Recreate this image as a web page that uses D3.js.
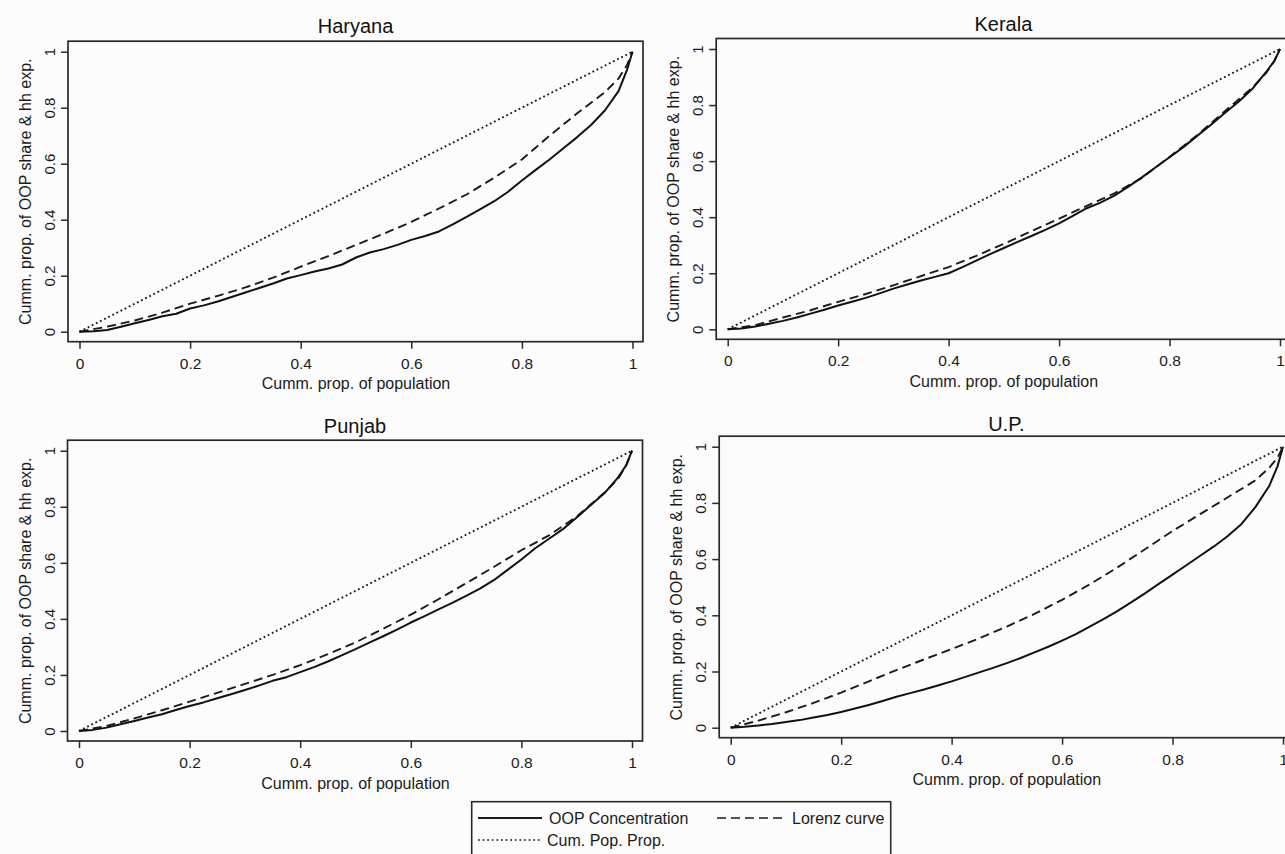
<!DOCTYPE html>
<html>
<head>
<meta charset="utf-8">
<script src="https://cdn.jsdelivr.net/npm/d3@7/dist/d3.min.js"></script>
<style>
    body { margin: 0; background: #fcfcfc; }
    svg { display: block; font-family: "Liberation Sans", Arial, sans-serif; }
</style>
</head>
<body>
<svg id="chart" width="1285" height="854"></svg>
<script>
//Data
var states = ["Haryana", "Kerala", "Punjab", "U.P."];

var concGrid = [0, .025, .05, .075, .1, .125, .15, .175, .2, .225, .25, .275, .3, .325, .35, .375, .4, .425, .45, .475,
    .5, .525, .55, .575, .6, .625, .65, .675, .7, .725, .75, .775, .8, .825, .85, .875, .9, .925, .95, .975, .99, 1];
var lorenzGrid = [0, .05, .1, .15, .2, .25, .3, .35, .4, .45, .5, .55, .6, .65, .7, .75, .8, .85, .9, .95, .975, .99, 1];
var diagonal = [0, 1];

var haryanaConc = [0, .002, .006, .018, .03, .042, .055, .064, .083, .094, .108, .124, .14, .156, .172, .19, .202, .215, .226, .24,
    .265, .283, .295, .31, .328, .342, .358, .383, .41, .438, .466, .5, .54, .578, .615, .655, .695, .738, .79, .86, .935, 1];
var haryanaLorenz = [0, .018, .04, .068, .10, .128, .158, .193, .232, .27, .31, .35, .392, .44, .49, .55, .615, .70, .78, .855, .905, .952, 1];

var keralaConc = [0, .003, .01, .02, .03, .042, .056, .07, .085, .098, .112, .128, .145, .16, .174, .187, .20, .222, .245, .268,
    .29, .312, .333, .355, .378, .405, .432, .452, .477, .508, .542, .578, .614, .65, .69, .73, .772, .812, .858, .918, .958, 1];
var keralaLorenz = [0, .015, .042, .068, .098, .126, .157, .19, .222, .262, .305, .35, .395, .44, .485, .54, .615, .692, .778, .862, .915, .958, 1];

var punjabConc = [0, .004, .012, .024, .036, .048, .06, .075, .089, .102, .117, .131, .146, .162, .179, .192, .21, .228, .248, .27,
    .292, .315, .338, .362, .387, .41, .434, .457, .482, .508, .538, .575, .612, .652, .686, .72, .762, .805, .848, .905, .95, 1];
var punjabLorenz = [0, .018, .045, .074, .105, .136, .168, .2, .235, .274, .316, .365, .415, .47, .527, .585, .645, .698, .765, .85, .9, .95, 1];

var upConc = [0, .003, .008, .013, .02, .027, .036, .045, .056, .068, .081, .095, .11, .123, .136, .15, .165, .181, .197, .213,
    .23, .248, .268, .288, .31, .333, .36, .386, .415, .446, .478, .512, .545, .578, .612, .645, .682, .725, .785, .86, .93, 1];
var upLorenz = [0, .025, .055, .088, .125, .165, .205, .243, .28, .318, .36, .405, .455, .51, .57, .635, .70, .76, .82, .88, .925, .96, 1];

var xTicks = [0, 0.2, 0.4, 0.6, 0.8, 1];
var yTicks = [0, 0.2, 0.4, 0.6, 0.8, 1];
var xTitle = "Cumm. prop. of population";
var yTitle = "Cumm. prop. of OOP share & hh exp.";
var legendLabels = ["OOP Concentration", "Lorenz curve", "Cum. Pop. Prop."];

var concData = [haryanaConc, keralaConc, punjabConc, upConc];
var lorenzData = [haryanaLorenz, keralaLorenz, punjabLorenz, upLorenz];

//Layout (pixel positions of the tick 0 / tick 1 for each panel)
var frames = [
    { x0: 79.5, x1: 632.5, y0: 331.7, y1: 51.7, titleY: 33 },
    { x0: 727.7, x1: 1280, y0: 329.3, y1: 49, titleY: 31 },
    { x0: 79, x1: 632, y0: 731, y1: 450.7, titleY: 433 },
    { x0: 730.7, x1: 1283, y0: 727.7, y1: 446.7, titleY: 431 }
];
var ink = "#1b1b1b";
var fmt = function (d) { return d === 0 || d === 1 ? d3.format("d")(d) : d3.format(".1f")(d); };

var svg = d3.select("#chart");
svg.append("rect").attr("width", 1285).attr("height", 854).attr("fill", "#fcfcfc");

function draw_panel(i) {
    var f = frames[i];
    var x = d3.scaleLinear().domain([0, 1]).range([f.x0, f.x1]);
    var y = d3.scaleLinear().domain([0, 1]).range([f.y0, f.y1]);
    var left = f.x0 - 11.5, right = f.x1 + 10.5, top = f.y1 - 10.5, bottom = f.y0 + 10;

    var g = svg.append("g").attr("class", "panel");
    var line = d3.line().x(function (d) { return x(d[0]); }).y(function (d) { return y(d[1]); });

    g.append("path").datum(d3.zip(diagonal, diagonal)).attr("d", line)
        .attr("fill", "none").attr("stroke", ink).attr("stroke-width", 1.9).attr("stroke-dasharray", "1.8,2.8");
    g.append("path").datum(d3.zip(lorenzGrid, lorenzData[i])).attr("d", line)
        .attr("fill", "none").attr("stroke", ink).attr("stroke-width", 1.9).attr("stroke-dasharray", "9,5");
    g.append("path").datum(d3.zip(concGrid, concData[i])).attr("d", line)
        .attr("fill", "none").attr("stroke", "#111").attr("stroke-width", 2).attr("stroke-linejoin", "round");

    g.append("rect").attr("x", left).attr("y", top).attr("width", right - left).attr("height", bottom - top)
        .attr("fill", "none").attr("stroke", "#2a2a2a").attr("stroke-width", 1.7);

    var ax = g.append("g").attr("transform", `translate(0,${bottom})`)
        .call(d3.axisBottom(x).tickValues(xTicks).tickSize(7).tickFormat(fmt));
    ax.attr("font-size", 15.5).attr("font-family", null);
    ax.select(".domain").remove();
    ax.selectAll("line").attr("stroke", "#2a2a2a").attr("stroke-width", 1.5);
    ax.selectAll("text").attr("y", 16).attr("dy", "0.71em").attr("fill", ink);

    var ay = g.append("g").attr("transform", `translate(${left},0)`)
        .call(d3.axisLeft(y).tickValues(yTicks).tickSize(7).tickFormat(fmt));
    ay.attr("font-size", 15).attr("font-family", null);
    ay.select(".domain").remove();
    ay.selectAll("line").attr("stroke", "#2a2a2a").attr("stroke-width", 1.5);
    ay.selectAll("text").attr("transform", "rotate(-90)").attr("x", 0).attr("y", -13).attr("dy", 0)
        .attr("text-anchor", "middle").attr("fill", ink);

    g.append("text").attr("x", (f.x0 + f.x1) / 2).attr("y", bottom + 47.5)
        .attr("text-anchor", "middle").attr("font-size", 16).attr("fill", ink).text(xTitle);
    g.append("text").attr("transform", `translate(${left - 37},${(f.y0 + f.y1) / 2}) rotate(-90)`)
        .attr("text-anchor", "middle").attr("font-size", 16).attr("fill", ink).text(yTitle);
    g.append("text").attr("x", (left + right) / 2).attr("y", f.titleY)
        .attr("text-anchor", "middle").attr("font-size", 20).attr("fill", "#111").text(states[i]);
}

for (var i = 0; i < states.length; i++)
    draw_panel(i);

//Legend
var lg = svg.append("g").attr("class", "legend");
lg.append("rect").attr("x", 471.7).attr("y", 801.7).attr("width", 419).attr("height", 70)
    .attr("fill", "#fcfcfc").attr("stroke", "#2a2a2a").attr("stroke-width", 1.6);
var items = [
    { x: 478, y: 818, w: 64, dash: null },
    { x: 717, y: 818, w: 68, dash: "9,5" },
    { x: 478, y: 840, w: 62, dash: "1.8,2.8" }
];
items.forEach(function (d, k) {
    lg.append("line").attr("x1", d.x).attr("x2", d.x + d.w).attr("y1", d.y).attr("y2", d.y)
        .attr("stroke", ink).attr("stroke-width", k == 0 ? 1.9 : 1.7).attr("stroke-dasharray", d.dash);
    lg.append("text").attr("x", d.x + d.w + 7).attr("y", d.y + 5.5)
        .attr("font-size", 16).attr("fill", ink).text(legendLabels[k]);
});
</script>
</body>
</html>
